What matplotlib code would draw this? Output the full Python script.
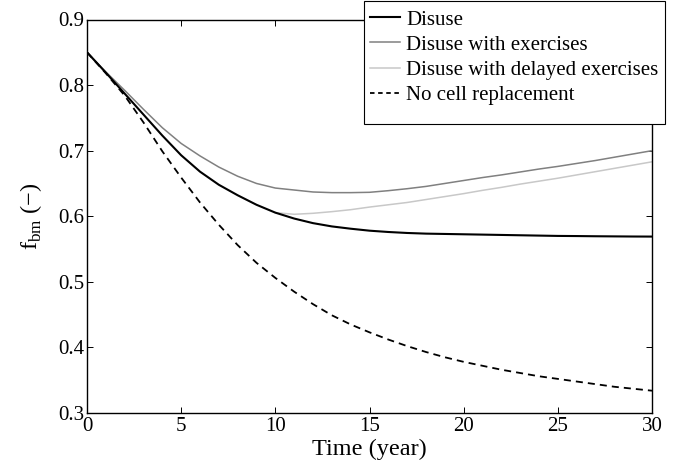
import matplotlib
matplotlib.use('Agg')
import matplotlib.pyplot as plt
import matplotlib.patches as mpatches

plt.rcParams['font.family'] = ['Liberation Serif', 'DejaVu Serif']
plt.rcParams['mathtext.fontset'] = 'custom'
plt.rcParams['mathtext.rm'] = 'Liberation Serif'

# Time (year)
years = list(range(0, 31))

# f_bm values
disuse = [0.850, 0.819, 0.787, 0.755, 0.723, 0.693, 0.668, 0.648, 0.632, 0.6175,
          0.6055, 0.5965, 0.5895, 0.5845, 0.581, 0.578, 0.576, 0.5745, 0.5735, 0.573,
          0.5725, 0.572, 0.5715, 0.571, 0.5705, 0.570, 0.5698, 0.5695, 0.5693, 0.5691,
          0.569]
exercises = [0.850, 0.820, 0.792, 0.763, 0.735, 0.711, 0.692, 0.675, 0.661, 0.650,
             0.643, 0.640, 0.637, 0.636, 0.636, 0.6365, 0.639, 0.642, 0.6455, 0.650,
             0.6545, 0.659, 0.663, 0.6675, 0.672, 0.676, 0.6805, 0.685, 0.690, 0.695,
             0.700]
delayed_years = list(range(10, 31))
delayed = [0.6055, 0.603, 0.6045, 0.607, 0.610, 0.614, 0.6175, 0.621, 0.6255, 0.630,
           0.6345, 0.6395, 0.644, 0.649, 0.6535, 0.658, 0.663, 0.668, 0.673, 0.678,
           0.683]
no_replacement = [0.850, 0.818, 0.784, 0.743, 0.699, 0.659, 0.621, 0.587, 0.556, 0.529,
                  0.506, 0.485, 0.466, 0.449, 0.435, 0.423, 0.412, 0.402, 0.393, 0.385,
                  0.378, 0.372, 0.366, 0.361, 0.356, 0.352, 0.348, 0.344, 0.340, 0.337,
                  0.334]

labels = ['Disuse', 'Disuse with exercises', 'Disuse with delayed exercises',
          'No cell replacement']

fig = plt.figure(figsize=(6.86, 4.66), dpi=100)
ax = fig.add_axes([87 / 686, 53 / 466, 565 / 686, 393.5 / 466])

# delayed exercises curve follows disuse until year 10, drawn under it
ax.plot(delayed_years, delayed, color='#c8c8c8', lw=1.1, zorder=2)
ax.plot(years, exercises, color='#808080', lw=1.1, zorder=3)
ax.plot(years, disuse, color='black', lw=1.5, zorder=4)
ax.plot(years, no_replacement, color='black', lw=1.3, linestyle=(0, (3.9, 2.8)), zorder=4)

ax.set_xlim(0, 30)
ax.set_ylim(0.3, 0.9)
ax.set_xticks([0, 5, 10, 15, 20, 25, 30])
ax.set_yticks([0.3, 0.4, 0.5, 0.6, 0.7, 0.8, 0.9])
ax.tick_params(direction='in', top=True, right=True, length=4, width=0.7,
               labelsize=15, pad=2)
ax.tick_params(axis='x', pad=3)
for s in ax.spines.values():
    s.set_linewidth(1.0)

ax.set_xlabel('Time (year)', fontsize=17.5, labelpad=2)
ax.set_ylabel(r'f$_{\mathrm{bm}}$ (−)', fontsize=17.5, labelpad=10)

# legend box (MATLAB style, spills over the axes corner)
box = mpatches.Rectangle((364 / 686, 1 - 124 / 466), 301 / 686, 123 / 466,
                         transform=fig.transFigure, facecolor='white',
                         edgecolor='black', lw=0.8, zorder=1)
fig.add_artist(box)
handles = [
    plt.Line2D([], [], color='black', lw=1.5),
    plt.Line2D([], [], color='#808080', lw=1.1),
    plt.Line2D([], [], color='#c8c8c8', lw=1.1),
    plt.Line2D([], [], color='black', lw=1.3, linestyle=(0, (2.5, 2.0))),
]
fig.legend(handles, labels, loc='upper left', bbox_to_anchor=(370 / 686, 1 - 10 / 466),
           frameon=False, fontsize=15, borderpad=0, borderaxespad=0,
           handlelength=1.44, handletextpad=0.3, labelspacing=0.27)

fig.savefig('out.png', dpi=100)
